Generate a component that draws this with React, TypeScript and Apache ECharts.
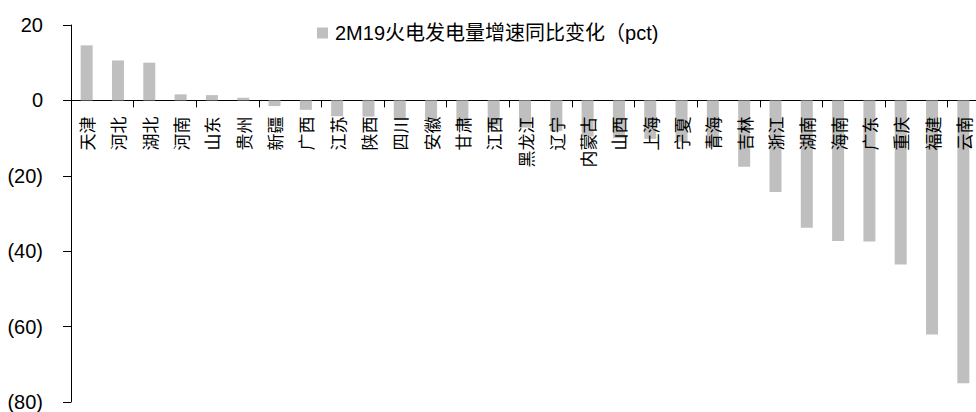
import React, { useEffect, useRef } from "react";
import * as echarts from "echarts";

// Provinces, ordered from largest gain to largest drop
const provinces = [
  "天津", "河北", "湖北", "河南", "山东", "贵州", "新疆", "广西", "江苏", "陕西",
  "四川", "安徽", "甘肃", "江西", "黑龙江", "辽宁", "内蒙古", "山西", "上海", "宁夏",
  "青海", "吉林", "浙江", "湖南", "海南", "广东", "重庆", "福建", "云南",
];

// Year-on-year change in thermal power output growth, 2M19 (pct)
const changePct = [
  14.6, 10.6, 10.0, 1.6, 1.4, 0.7, -1.5, -2.5, -4.2, -4.3,
  -4.8, -5.2, -6.2, -6.8, -7.2, -8.1, -9.6, -10.0, -10.2, -10.9,
  -12.1, -17.6, -24.3, -33.8, -37.3, -37.4, -43.5, -62.1, -75.0,
];

// Zero baseline used to hang the province names just under the 0 line
const baseline = provinces.map(() => 0);

const seriesName = "2M19火电发电量增速同比变化（pct)";

const yMin = -80;
const yMax = 20;
const yStep = 20;

export default function App() {
  const ref = useRef<HTMLDivElement>(null);

  useEffect(() => {
    if (!ref.current) return;
    const chart = echarts.init(ref.current, null, { renderer: "svg" });
    chart.setOption({
      animation: false,
      legend: {
        left: 312,
        top: 18,
        icon: "rect",
        itemWidth: 11,
        itemHeight: 11,
        textStyle: {
          fontSize: 20,
          color: "#000",
          fontFamily: "'Liberation Sans', 'Noto Sans CJK SC', sans-serif",
          padding: [0, 0, 0, 2],
        },
        data: [seriesName],
      },
      grid: {
        left: 71,
        right: -3,
        top: 25,
        bottom: 10,
        containLabel: false,
        outerBoundsMode: "none",
      },
      xAxis: {
        type: "category",
        data: provinces,
        boundaryGap: true,
        axisLine: { onZero: true, lineStyle: { color: "#000", width: 1 } },
        axisTick: { show: true, length: 7, alignWithLabel: false, lineStyle: { color: "#000" } },
        axisLabel: { show: false },
      },
      yAxis: {
        type: "value",
        min: yMin,
        max: yMax,
        interval: yStep,
        splitLine: { show: false },
        axisLine: { show: true, lineStyle: { color: "#000", width: 1 } },
        axisTick: { show: true, length: 8, inside: false, lineStyle: { color: "#000" } },
        axisLabel: {
          margin: 28,
          fontSize: 20,
          color: "#000",
          fontFamily: "'Liberation Sans', Arial, sans-serif",
          formatter: (v: number) => (v < 0 ? `(${-v})` : `${v}`),
        },
      },
      series: [
        {
          name: seriesName,
          type: "bar",
          data: changePct,
          barWidth: 12,
          barGap: "-100%",
          itemStyle: { color: "#BFBFBF" },
          z: 2,
        },
        {
          name: "labels",
          type: "bar",
          data: baseline,
          barWidth: 12,
          barGap: "-100%",
          silent: true,
          itemStyle: { color: "transparent" },
          z: 3,
          label: {
            show: true,
            position: "bottom",
            distance: 16,
            rotate: 90,
            align: "right",
            verticalAlign: "middle",
            fontSize: 17,
            color: "#000",
            fontFamily: "'Noto Sans CJK SC', sans-serif",
            formatter: (p: { name: string }) => p.name,
          },
        },
      ],
    });
    return () => chart.dispose();
  }, []);

  return (
    <div
      ref={ref}
      style={{ position: "absolute", left: 0, top: 0, width: 976, height: 412 }}
    />
  );
}
